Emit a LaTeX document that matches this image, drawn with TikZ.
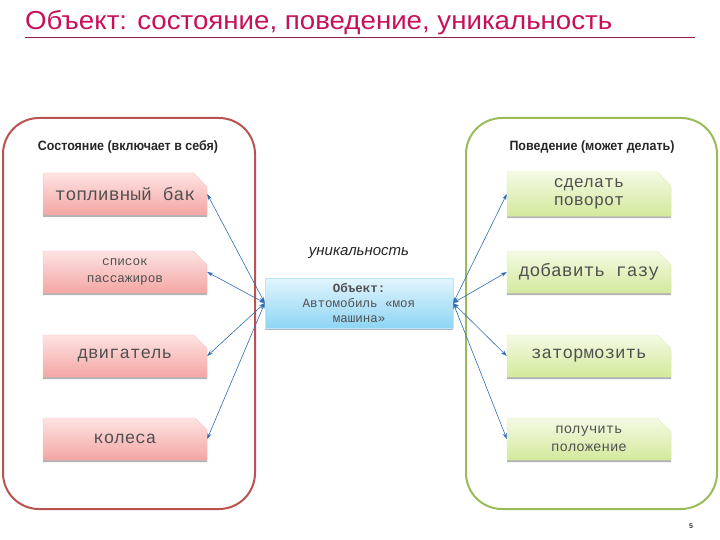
\documentclass[tikz,border=0pt]{standalone}
\usepackage{fontspec}
\usepackage{graphicx}
\setmainfont{Liberation Sans}
\newfontfamily\monof{Liberation Mono}
\usetikzlibrary{shapes.misc,shadows,arrows.meta}
\definecolor{titlecol}{HTML}{C8105A}
\definecolor{rulecol}{HTML}{8E1E4E}
\definecolor{redframe}{HTML}{B9534F}
\definecolor{greenframe}{HTML}{9BBB59}
\definecolor{pinktop}{HTML}{FDE4E3}
\definecolor{pinkbot}{HTML}{F3A5A3}
\definecolor{greentop}{HTML}{F4FAE4}
\definecolor{greenbot}{HTML}{D3E99C}
\definecolor{bluetop}{HTML}{E2F5FD}
\definecolor{bluebot}{HTML}{8ED5F5}
\definecolor{arrowcol}{HTML}{2E6DB4}
\definecolor{boxtext}{HTML}{505050}
\newcommand{\fw}[2]{\resizebox{#1}{\height}{#2}}
\tikzset{
  frame/.style={line width=2pt, rounded corners=36pt},
  itembox/.style={chamfered rectangle, chamfered rectangle corners=north east,
    chamfered rectangle xsep=7pt, chamfered rectangle ysep=7pt,
    minimum width=164pt, minimum height=42pt, inner sep=0pt,
    text=boxtext, align=center,
    drop shadow={shadow xshift=0pt, shadow yshift=-2pt, fill=black!55, opacity=0.55}},
  redbox/.style={itembox, draw=pinkbot!70!white, top color=pinktop, bottom color=pinkbot},
  greenbox/.style={itembox, draw=greenbot!70!white, top color=greentop, bottom color=greenbot},
  link/.style={draw=arrowcol, line width=0.6pt, {Stealth[length=6pt,width=4pt]}-{Stealth[length=6pt,width=4pt]}},
  header/.style={font=\bfseries\fontsize{13.5}{16}\selectfont, text=black!85, inner sep=0pt},
}
\begin{document}
\begin{tikzpicture}[x=1pt,y=-1pt]
\useasboundingbox (0,0) rectangle (720,540);
% title
\node[anchor=base west, inner sep=0pt, text=titlecol, font=\fontsize{26}{30}\selectfont] (title) at (25,30)
  {\fw{587pt}{Объект: состояние, поведение, уникальность}};
\coordinate (ruleL) at (25,37);
\coordinate (ruleR) at (695,37);
\draw[rulecol, line width=0.8pt] (ruleL) -- (ruleR);
% containers
\draw[frame, draw=redframe] (3,118) rectangle (255,509);
\draw[frame, draw=greenframe] (466,118) rectangle (717,509);
\node[header] (hL) at (128,147) {\fw{180pt}{Состояние (включает в себя)}};
\node[header] (hR) at (592,147) {\fw{165pt}{Поведение (может делать)}};
% left boxes
\node[redbox, font=\monof\fontsize{18}{20}\selectfont] (l1) at (125,194) {топливный бак};
\node[redbox, font=\monof\fontsize{12.7}{17}\selectfont] (l2) at (125,272) {список\\пассажиров};
\node[redbox, font=\monof\fontsize{17.5}{20}\selectfont] (l3) at (125,356) {двигатель};
\node[redbox, font=\monof\fontsize{17.5}{20}\selectfont] (l4) at (125,439) {колеса};
% right boxes
\node[greenbox, font=\monof\fontsize{16.7}{18}\selectfont] (r1) at (589,194) {сделать\\поворот};
\node[greenbox, font=\monof\fontsize{18}{20}\selectfont] (r2) at (589,272) {добавить газу};
\node[greenbox, font=\monof\fontsize{17.5}{20}\selectfont] (r3) at (589,356) {затормозить};
\node[greenbox, font=\monof\fontsize{14}{18}\selectfont] (r4) at (589,439) {получить\\положение};
% center
\node[font=\itshape\fontsize{15}{18}\selectfont, text=black!85, inner sep=0pt] (uniq) at (359,253) {уникальность};
\node[minimum width=188pt, minimum height=50pt, inner sep=0pt, top color=bluetop, bottom color=bluebot,
  draw=bluebot!60!white, text=boxtext, font=\monof\fontsize{12.5}{15}\selectfont, align=center,
  drop shadow={shadow xshift=0pt, shadow yshift=-2pt, fill=black!55, opacity=0.55}] (obj) at (359,303)
  {\textbf{Объект:}\\Автомобиль «моя\\машина»};
% links
\foreach \t in {l1,l2,l3,l4} \draw[link] (obj.west) -- (\t.east);
\foreach \t in {r1,r2,r3,r4} \draw[link] (obj.east) -- (\t.west);
% page number
\node[font=\bfseries\fontsize{7}{8}\selectfont, text=black!80, inner sep=0pt] (pg) at (691,526) {5};
\end{tikzpicture}
\end{document}
